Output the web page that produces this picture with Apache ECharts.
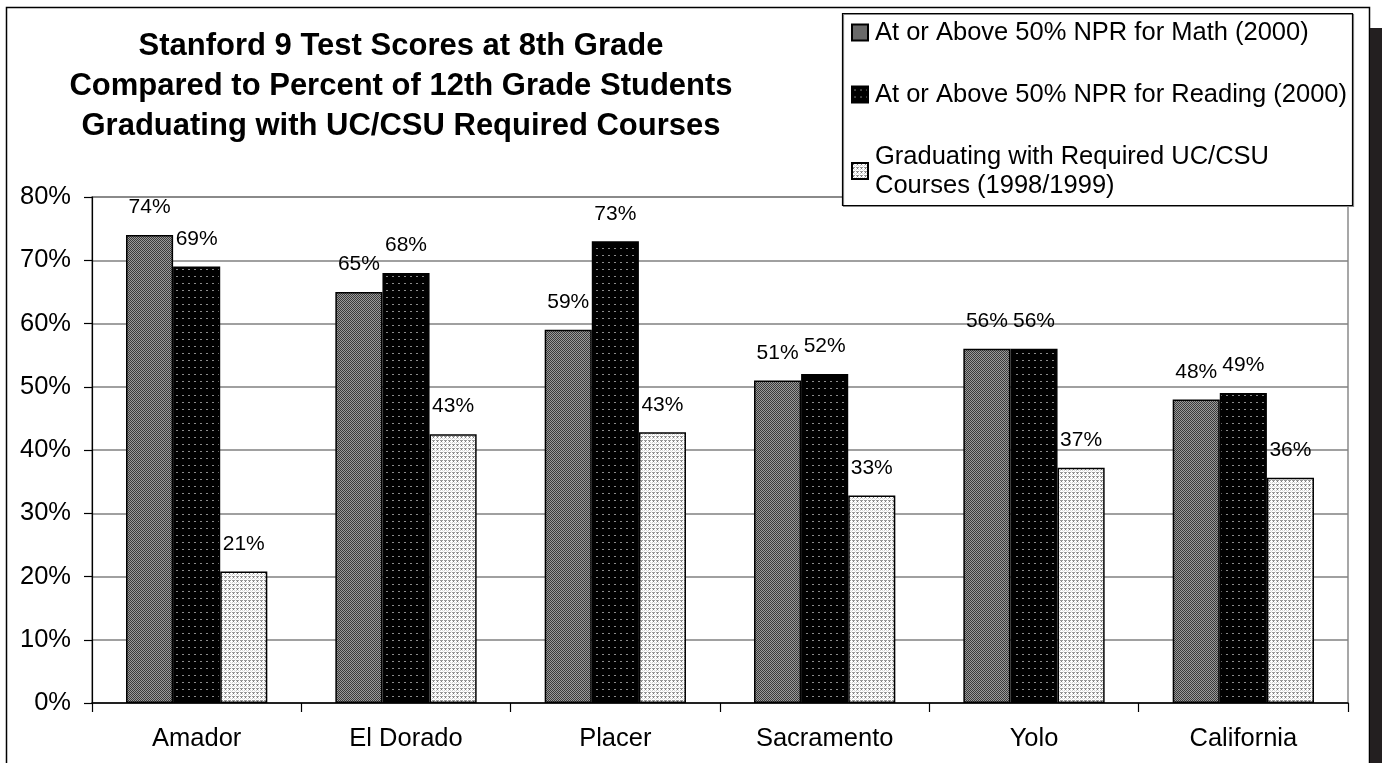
<!DOCTYPE html>
<html>
<head>
<meta charset="utf-8">
<script src="https://cdn.jsdelivr.net/npm/echarts@6/dist/echarts.min.js"></script>
<style>
  html, body { margin: 0; padding: 0; background: #fff; }
  #chart { width: 1382px; height: 763px; }
</style>
</head>
<body>
<div id="chart"></div>
<script>
// data
const counties = ['Amador', 'El Dorado', 'Placer', 'Sacramento', 'Yolo', 'California']
const mathScores = [74, 65, 59, 51, 56, 48]
const readingScores = [69, 68, 73, 52, 56, 49]
const ucCsuGrads = [20.8, 42.5, 42.8, 32.8, 37.2, 35.6]
const seriesNames = [
  'At or Above 50% NPR for Math (2000)',
  'At or Above 50% NPR for Reading (2000)',
  'Graduating with Required UC/CSU\nCourses (1998/1999)'
]
const yTicks = { min: 0, max: 80, step: 10 }

const font = 'Liberation Sans, Arial, sans-serif'

// little fill patterns like the old excel hatches
function makePattern(w, h, bg, dots) {
  const c = document.createElement('canvas')
  c.width = w
  c.height = h
  const ctx = c.getContext('2d')
  ctx.fillStyle = bg
  ctx.fillRect(0, 0, w, h)
  dots.forEach(d => {
    ctx.fillStyle = d[2]
    ctx.fillRect(d[0], d[1], d[3] || 1, 1)
  })
  return c
}

const mathFill = makePattern(2, 2, '#9a9a9a', [[0, 0, '#3a3a3a'], [1, 1, '#3a3a3a']])
const readingFill = makePattern(6, 7, '#000', [[2, 3, '#8a8a8a', 2]])
const gradFill = makePattern(4, 4, '#fff', [
  [0, 0, '#9a9a9a', 3], [1, 1, '#7a7a7a'], [2, 2, '#d8d8d8'],
  [0, 2, '#c8c8c8'], [3, 3, '#e0e0e0']
])

const chart = echarts.init(document.getElementById('chart'))

const labelOpt = {
  show: true,
  position: 'top',
  distance: 17,
  fontFamily: font,
  fontSize: 21,
  color: '#000',
  formatter: p => Math.round(p.value) + '%'
}

function barSeries(name, data, fill) {
  return {
    name: name,
    type: 'bar',
    data: data,
    barGap: '0%',
    barCategoryGap: '32.5%',
    itemStyle: {
      color: { image: fill, repeat: 'repeat' },
      borderColor: '#000',
      borderWidth: 1.5
    },
    label: labelOpt,
    emphasis: { disabled: true }
  }
}

chart.setOption({
  backgroundColor: '#fff',
  animation: false,
  textStyle: { fontFamily: font },
  graphic: [
    // outer frame
    {
      type: 'rect', shape: { x: 6.5, y: 7.5, width: 1363, height: 800 },
      style: { fill: 'none', stroke: '#000', lineWidth: 1.5 }, silent: true, z: -10
    },
    // dark strip on the right edge
    {
      type: 'rect', shape: { x: 1370, y: 28, width: 12, height: 740 },
      style: { fill: '#231f20' }, silent: true
    },
    // legend box
    {
      type: 'rect', shape: { x: 842.5, y: 13.5, width: 510, height: 192 },
      style: { fill: '#fff', stroke: '#000', lineWidth: 1.2, shadowColor: '#888', shadowOffsetX: 1, shadowOffsetY: 1 },
      silent: true, z: 5
    },
    {
      type: 'text', x: 401, y: 26, silent: true,
      style: {
        text: 'Stanford 9 Test Scores at 8th Grade\nCompared to Percent of 12th Grade Students\nGraduating with UC/CSU Required Courses',
        textAlign: 'center',
        fontFamily: font,
        fontWeight: 'bold',
        fontSize: 31,
        lineHeight: 40,
        fill: '#000'
      }
    }
  ],
  legend: {
    orient: 'vertical',
    left: 845,
    top: 15,
    padding: [3, 0, 0, 6],
    itemGap: 33,
    itemWidth: 16,
    itemHeight: 16,
    icon: 'rect',
    z: 10,
    selectedMode: false,
    textStyle: { fontFamily: font, fontSize: 25.5, color: '#000', lineHeight: 29, padding: [0, 0, 0, 2] },
    data: seriesNames
  },
  grid: {
    left: 92,
    right: 34,
    top: 197,
    bottom: 60,
    show: true,
    borderColor: '#8a8a8a',
    borderWidth: 1.5,
    containLabel: false
  },
  xAxis: {
    type: 'category',
    data: counties,
    axisLine: { lineStyle: { color: '#000', width: 1.5 } },
    axisTick: { show: true, length: 9, lineStyle: { color: '#000', width: 1.2 } },
    axisLabel: { fontFamily: font, fontSize: 25.5, color: '#000', margin: 23 },
    splitLine: { show: false }
  },
  yAxis: {
    type: 'value',
    min: yTicks.min,
    max: yTicks.max,
    interval: yTicks.step,
    axisLine: { show: true, lineStyle: { color: '#000', width: 1.2 } },
    axisTick: { show: true, length: 8, lineStyle: { color: '#000', width: 1.2 } },
    axisLabel: { fontFamily: font, fontSize: 25.5, color: '#000', margin: 21, formatter: '{value}%' },
    splitLine: { lineStyle: { color: '#808080', width: 1.5 } }
  },
  series: [
    barSeries(seriesNames[0], mathScores, mathFill),
    barSeries(seriesNames[1], readingScores, readingFill),
    barSeries(seriesNames[2], ucCsuGrads, gradFill)
  ]
})
</script>
</body>
</html>
